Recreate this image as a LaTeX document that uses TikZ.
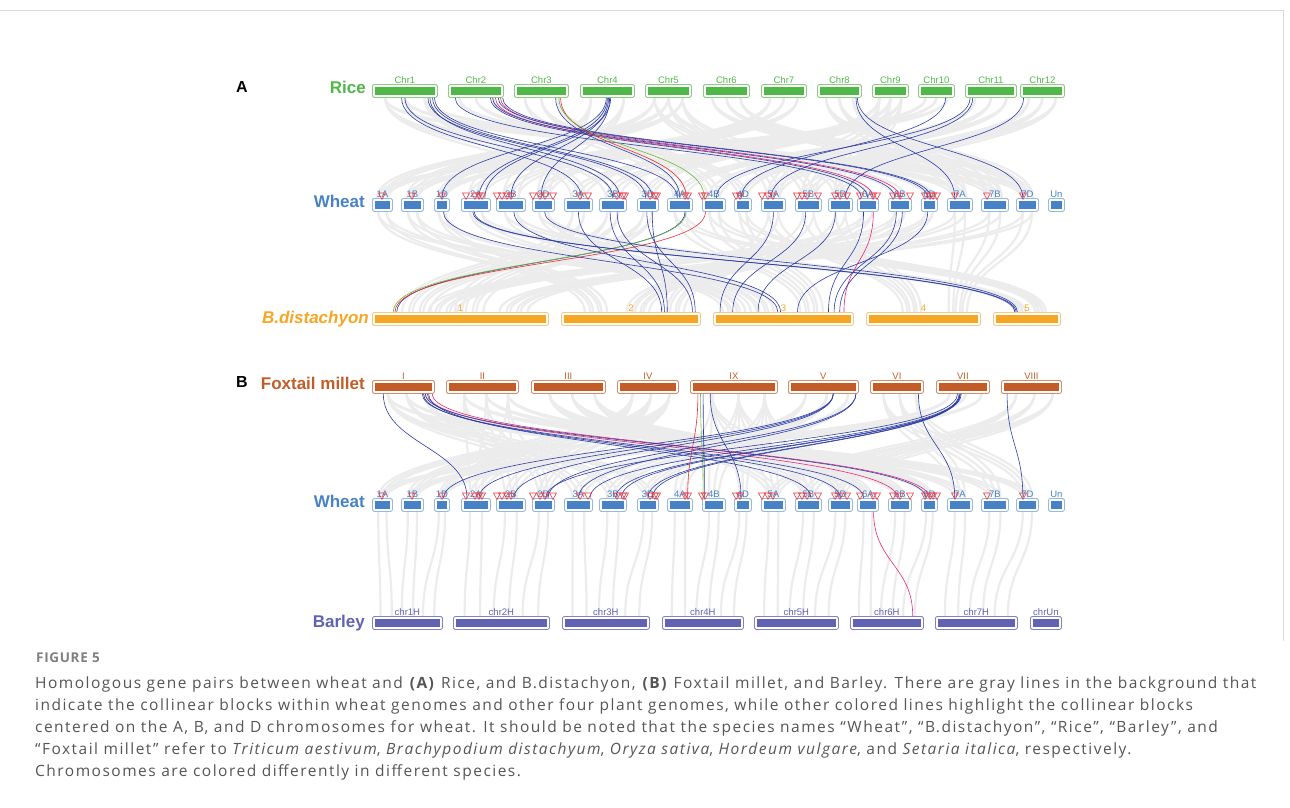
\documentclass[tikz,border=0pt]{standalone}
\usepackage{fontspec}
\setmainfont{Liberation Sans}
\newfontfamily\capfont[LetterSpace=9.6]{Open Sans}
\newfontfamily\figfont[LetterSpace=5]{Open Sans}
\usetikzlibrary{calc}
\pgfdeclarelayer{bg}
\pgfsetlayers{bg,main}
\definecolor{riceC}{RGB}{80,184,72}
\definecolor{riceL}{RGB}{140,205,130}
\definecolor{wheatC}{RGB}{70,130,197}
\definecolor{wheatL}{RGB}{150,185,225}
\definecolor{bdC}{RGB}{246,166,35}
\definecolor{bdL}{RGB}{250,200,130}
\definecolor{fxC}{RGB}{196,92,40}
\definecolor{fxL}{RGB}{215,140,105}
\definecolor{brC}{RGB}{98,98,178}
\definecolor{brL}{RGB}{130,130,195}
\definecolor{lnB}{RGB}{45,60,165}
\definecolor{lnP}{RGB}{232,40,120}
\definecolor{lnR}{RGB}{235,45,45}
\definecolor{lnG}{RGB}{110,185,60}
\definecolor{triC}{RGB}{235,60,70}
\definecolor{grayLn}{RGB}{236,236,236}
\definecolor{capC}{RGB}{85,85,85}
\tikzset{
 chbox/.style={draw, fill=white, rounded corners=1.5pt, inner sep=0pt, minimum height=13pt, line width=0.8pt},
 chlbl/.style={font=\fontsize{9.5}{10}\selectfont, inner sep=0pt},
 sp/.style={font=\fontsize{17}{20}\selectfont\bfseries, inner sep=0pt, anchor=base east},
 panel/.style={font=\fontsize{16}{18}\selectfont\bfseries, inner sep=0pt, anchor=base west},
 bl/.style={draw=lnB, line width=0.6pt},
 pk/.style={draw=lnP, line width=0.6pt},
 rd/.style={draw=lnR, line width=0.6pt},
 gn/.style={draw=lnG, line width=0.6pt},
 gryln/.style={draw=grayLn, line width=2.2pt},
 tribox/.style={draw=triC, line width=0.6pt, line join=miter},
 captxt/.style={font=\capfont\fontsize{15.5}{22}\selectfont, text=capC, inner sep=0pt, anchor=base west},
}
\newcommand\chr[6]{%
 \node[chbox, draw=#5L, minimum width={(#3-#2)*1pt}, anchor=north west] (#1) at (#2,#4) {};
 \fill[#5C] ([xshift=3pt,yshift=-3pt]#1.north west) rectangle ([xshift=-3pt,yshift=3pt]#1.south east);
 \node[chlbl, text=#5C, anchor=base] (#1-l) at ([yshift=1pt]#1.north) {#6};
}
\newcommand\lk[5]{\draw[#1] ($(#2.south west)!#3!(#2.south east)$) .. controls +(0,50) and +(0,-50) .. ($(#4.north west)!#5!(#4.north east)$);}
\newcommand\gb[4]{\draw[gryln] ($(#1.south west)!#2!(#1.south east)$) .. controls +(0,50) and +(0,-50) .. ($(#3.north west)!#4!(#3.north east)$);}
\begin{document}
\begin{tikzpicture}[x=1pt,y=-1pt]
\useasboundingbox (0,0) rectangle (1290,807);
\draw[gray!30, line width=0.6pt] (0,10) -- (1283,10) -- (1283,641);
% panel labels
\node[panel] (pA) at (236,92) {A};
\node[panel] (pB) at (236,387) {B};
\node[sp, text=riceC] (sRice) at (366,93) {Rice};
\node[sp, text=wheatC] (sWheatA) at (365,207) {Wheat};
\node[sp, text=bdC] (sBd) at (369,323) {\itshape B.distachyon};
\node[sp, text=fxC] (sFx) at (365,389) {Foxtail millet};
\node[sp, text=wheatC] (sWheatB) at (365,507) {Wheat};
\node[sp, text=brC] (sBr) at (365,627) {Barley};
% chromosomes
\foreach \i/\xa/\xb in {1/372/437,2/448/503,3/514/568,4/580/634,5/645/691,6/703/749,7/761/806,8/817/861,9/872/908,10/918/954,11/965/1016,12/1020/1064}
 {\chr{r\i}{\xa}{\xb}{84}{rice}{Chr\i}}
\foreach \nm/\xa/\xb in {1A/372/392,1B/401/423,1D/434/449,2A/461/490,2B/496/525,2D/532/554,3A/564/592,3B/599/626,3D/637/658,4A/667/692,4B/702/725,4D/734/751,5A/761/785,5B/795/821,5D/828/852,6A/857/878,6B/888/911,6D/921/937,7A/947/972,7B/981/1008,7D/1016/1038,Un/1048/1064}
 {\chr{w\nm}{\xa}{\xb}{198}{wheat}{\nm}
  \chr{v\nm}{\xa}{\xb}{498}{wheat}{\nm}}
\foreach \i/\xa/\xb in {1/372/548,2/561/700,3/713/853,4/866/980,5/993/1060}
 {\chr{b\i}{\xa}{\xb}{312}{bd}{\i}}
\foreach \nm/\xa/\xb in {I/372/434,II/446/518,III/531/605,IV/617/678,IX/690/777,V/788/858,VI/870/923,VII/936/989,VIII/1001/1061}
 {\chr{f\nm}{\xa}{\xb}{380}{fx}{\nm}}
\foreach \i/\xa/\xb/\lb in {1/372/442/chr1H,2/453/549/chr2H,3/562/649/chr3H,4/662/743/chr4H,5/754/838/chr5H,6/850/923/chr6H,7/935/1017/chr7H,U/1030/1061/chrUn}
 {\chr{h\i}{\xa}{\xb}{616}{br}{\lb}}
% gray background links
\begin{pgfonlayer}{bg}
\foreach \s/\g in {r1/3,r2/6,r3/4,r4/2,r5/1,r6/7,r7/2,r8/7,r9/5,r10/1,r11/4,r12/5,r1/7,r5/5,r9/3}
 {\foreach \cc in {A,B,D}
  {\foreach \sa/\sb in {.2/.25,.5/.5,.8/.75}{\gb{\s}{\sa}{w\g\cc}{\sb}}}}
\foreach \g/\t/\f in {1/b2/.25,1/b3/.15,2/b3/.35,2/b5/.4,3/b1/.25,3/b1/.55,4/b3/.7,4/b5/.7,5/b4/.4,6/b2/.55,7/b1/.8,7/b4/.8,6/b1/.4,5/b2/.8}
 {\foreach \cc/\dd in {A/-.06,B/0,D/.06}
  {\foreach \sa/\sb in {.3/-.02,.7/.02}{\pgfmathsetmacro\ff{\f+\dd+\sb}\gb{w\g\cc}{\sa}{\t}{\ff}}}}
\foreach \s/\g in {fI/3,fII/2,fIII/5,fIV/1,fIX/4,fV/3,fVI/7,fVII/1,fVIII/5,fII/7,fIII/6,fI/6,fIV/2,fIX/5}
 {\foreach \cc in {A,B,D}
  {\foreach \sa/\sb in {.25/.3,.55/.5,.85/.7}{\gb{\s}{\sa}{v\g\cc}{\sb}}}}
\foreach \g in {1,2,3,4,5,6,7}
 {\foreach \cc/\dd in {A/.2,B/.5,D/.8}
  {\foreach \sa/\sb in {.3/-.08,.7/.08}{\pgfmathsetmacro\ff{\dd+\sb}\gb{v\g\cc}{\sa}{h\g}{\ff}}}}
\end{pgfonlayer}
% panel A: rice -> wheat
\lk{bl}{r1}{.45}{w3A}{.6}
\lk{bl}{r1}{.5}{w3B}{.5}
\lk{bl}{r1}{.85}{w3D}{.4}
\lk{bl}{r1}{.88}{w3B}{.75}
\lk{bl}{r1}{.92}{w3D}{.7}
\lk{bl}{r1}{.95}{w4A}{.4}
\lk{bl}{r2}{.13}{w6A}{.2}
\lk{bl}{r2}{.76}{w6A}{.5}
\lk{pk}{r2}{.85}{w6A}{.75}
\lk{pk}{r2}{.94}{w6B}{.5}
\lk{bl}{r2}{.98}{w6D}{.6}
\lk{bl}{r2}{.8}{w6B}{.3}
\lk{bl}{r2}{.9}{w6D}{.4}
\lk{bl}{r3}{.76}{w4A}{.5}
\lk{rd}{r3}{.85}{w4A}{.75}
\lk{gn}{r3}{.82}{w4B}{.1}
\lk{bl}{r4}{.5}{w2A}{.6}
\lk{bl}{r4}{.52}{w2B}{.5}
\lk{bl}{r4}{.54}{w2D}{.4}
\lk{bl}{r4}{.48}{w1D}{.5}
\lk{bl}{r4}{.56}{w2A}{.8}
\lk{bl}{r8}{.87}{w7A}{.3}
\lk{bl}{r8}{.9}{w7D}{.3}
\lk{bl}{r10}{.75}{w4D}{.4}
\lk{bl}{r11}{.1}{w4B}{.6}
\lk{bl}{r11}{.15}{w5A}{.4}
\lk{bl}{r12}{.08}{w5D}{.7}
% panel A: wheat -> B.distachyon
\lk{bl}{w4A}{.7}{b1}{.14}
\lk{gn}{w4A}{.74}{b1}{.12}
\lk{rd}{w4B}{.15}{b1}{.13}
\lk{bl}{w3A}{.5}{b2}{.72}
\lk{bl}{w3B}{.4}{b2}{.74}
\lk{bl}{w3B}{.65}{b2}{.94}
\lk{bl}{w3D}{.45}{b2}{.96}
\lk{bl}{w3D}{.7}{b2}{.76}
\lk{bl}{w1D}{.6}{b3}{.46}
\lk{bl}{w2B}{.6}{b3}{.48}
\lk{bl}{w2A}{.4}{b5}{.32}
\lk{bl}{w2A}{.45}{b5}{.34}
\lk{bl}{w2D}{.55}{b5}{.36}
\lk{bl}{w5A}{.5}{b3}{.05}
\lk{bl}{w5B}{.4}{b3}{.14}
\lk{bl}{w5D}{.3}{b3}{.32}
\lk{bl}{w6A}{.3}{b3}{.82}
\lk{pk}{w6A}{.75}{b3}{.93}
\lk{bl}{w6B}{.35}{b3}{.86}
\lk{bl}{w6D}{.4}{b3}{.6}
\lk{bl}{w6B}{.6}{b3}{.9}
% panel B: foxtail -> wheat
\lk{bl}{fI}{.18}{v2A}{.2}
\lk{bl}{fI}{.8}{v6A}{.3}
\lk{pk}{fI}{.88}{v6B}{.4}
\lk{pk}{fI}{.96}{v6D}{.5}
\lk{bl}{fI}{.82}{v5D}{.5}
\lk{bl}{fI}{.85}{v6D}{.3}
\lk{bl}{fI}{.9}{v5B}{.6}
\lk{rd}{fIX}{.09}{v4A}{.8}
\lk{gn}{fIX}{.12}{v4B}{.05}
\lk{bl}{fIX}{.15}{v4B}{.1}
\lk{bl}{fIX}{.23}{v4D}{.4}
\lk{bl}{fV}{.64}{v1D}{.6}
\lk{bl}{fV}{.64}{v2A}{.6}
\lk{bl}{fV}{.96}{v2D}{.7}
\lk{bl}{fV}{.64}{v2B}{.6}
\lk{bl}{fV}{.96}{v3A}{.5}
\lk{bl}{fVII}{.45}{v3A}{.9}
\lk{bl}{fVII}{.45}{v3B}{.6}
\lk{bl}{fVII}{.47}{v3B}{.8}
\lk{bl}{fVII}{.43}{v3D}{.5}
\lk{bl}{fVII}{.45}{v3D}{.7}
\lk{bl}{fVII}{.4}{v2D}{.6}
\lk{bl}{fVI}{.9}{v7A}{.3}
\lk{bl}{fVIII}{.1}{v7D}{.3}
% panel B: wheat -> barley
\lk{pk}{v6A}{.76}{h6}{.85}
% triangles
\foreach \yy in {193,493}
 {\foreach \x in {382,412,442,466,475,479,482,497,502,507,511,533,540,545,553,580,588,617,623,625,650,655,657,685,688,702,705,736,740,762,768,773,797,802,807,818,835,840,847,860,873,877,893,900,910,925,930,933,937,955,987,1023}
  {\draw[tribox] ({\x-3.5},\yy) -- ({\x+3.5},\yy) -- (\x,{\yy+6.5}) -- cycle;}}
% caption
\node[font=\figfont\bfseries\fontsize{13.5}{14}\selectfont, text=gray, inner sep=0pt, anchor=base west] (c0) at (36,662) {FIGURE 5};
\node[captxt] (c1) at (35,688) {Homologous gene pairs between wheat and \textbf{(A)} Rice, and B.distachyon, \textbf{(B)} Foxtail millet, and Barley. There are gray lines in the background that};
\node[captxt] (c2) at (35,710) {indicate the collinear blocks within wheat genomes and other four plant genomes, while other colored lines highlight the collinear blocks};
\node[captxt] (c3) at (35,732) {centered on the A, B, and D chromosomes for wheat. It should be noted that the species names “Wheat”, “B.distachyon”, “Rice”, “Barley”, and};
\node[captxt] (c4) at (35,754) {“Foxtail millet” refer to \textit{Triticum aestivum}, \textit{Brachypodium distachyum}, \textit{Oryza sativa}, \textit{Hordeum vulgare}, and \textit{Setaria italica}, respectively.};
\node[captxt] (c5) at (35,776) {Chromosomes are colored differently in different species.};
\end{tikzpicture}
\end{document}
